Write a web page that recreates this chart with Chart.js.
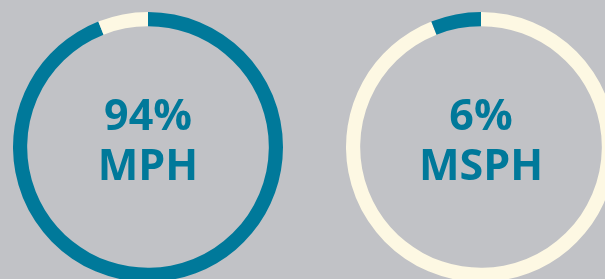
<!DOCTYPE html>
<html lang="en">
<head>
    <meta charset="UTF-8">
    <title>MPH vs MSPH</title>
    <script src="https://cdn.jsdelivr.net/npm/chart.js"></script>
    <style>
        html, body { margin: 0; padding: 0; width: 605px; height: 279px; overflow: hidden; background: #c1c2c6; }
        .ring { position: absolute; top: 12px; width: 270px; height: 270px; }
        #ringA { left: 13px; }
        #ringB { left: 346px; }
    </style>
</head>
<body>
    <div class="ring" id="ringA"><canvas id="mphChart"></canvas></div>
    <div class="ring" id="ringB"><canvas id="msphChart"></canvas></div>
    <script>
        // data
        const programs = ['MPH', 'MSPH'];
        const shares = [94, 6];
        const centerLabels = ['94%', '6%'];

        const teal = '#00799a';
        const cream = '#fdf8e3';

        // writes the percent + program name in the hole
        const centerText = {
            id: 'centerText',
            afterDraw(chart, args, opts) {
                const ctx = chart.ctx;
                const a = chart.chartArea;
                const cx = (a.left + a.right) / 2;
                ctx.save();
                ctx.fillStyle = teal;
                ctx.textAlign = 'center';
                ctx.textBaseline = 'alphabetic';
                ctx.font = 'bold 43px "Open Sans"';
                ctx.fillText(opts.top, cx, 118);
                ctx.fillText(opts.bottom, cx, 168);
                ctx.restore();
            }
        };

        function makeRing(id, idx, colors) {
            const other = programs[1 - idx];
            return new Chart(document.getElementById(id), {
                type: 'doughnut',
                data: {
                    labels: idx === 0 ? [programs[0], programs[1]] : [other, programs[1]],
                    datasets: [{
                        data: idx === 0 ? [shares[0], shares[1]] : [shares[0], shares[1]],
                        backgroundColor: colors,
                        borderWidth: 0
                    }]
                },
                options: {
                    responsive: true,
                    maintainAspectRatio: false,
                    animation: false,
                    cutout: '89.5%',
                    layout: { padding: 0 },
                    plugins: {
                        legend: { display: false },
                        tooltip: { enabled: false },
                        centerText: { top: centerLabels[idx], bottom: programs[idx] }
                    }
                },
                plugins: [centerText]
            });
        }

        makeRing('mphChart', 0, [teal, cream]);
        makeRing('msphChart', 1, [cream, teal]);
    </script>
</body>
</html>
